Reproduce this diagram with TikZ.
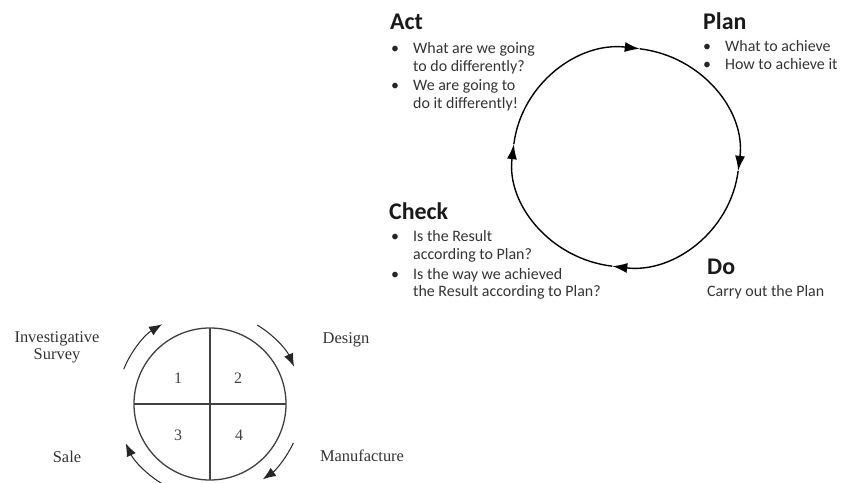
\documentclass[tikz,border=0pt]{standalone}
\usepackage{fontspec}
\setmainfont{Carlito}
\newfontfamily\seriffont{Liberation Serif}
\usetikzlibrary{arrows.meta}
\begin{document}
\begin{tikzpicture}[x=1bp,y=-1bp,
  txt/.style={anchor=base west,inner sep=0pt,font=\fontsize{16}{19}\selectfont,text=black!80},
  bul/.style={anchor=base west,inner sep=0pt,font=\fontsize{16}{19}\selectfont,text=black!85},
  head/.style={anchor=base west,inner sep=0pt,font=\fontsize{24}{28}\selectfont\bfseries,text=black!90},
  lbl/.style={inner sep=0pt,align=center,font=\seriffont\fontsize{16.5}{17}\selectfont,text=black!80},
  num/.style={inner sep=0pt,font=\seriffont\fontsize{16}{18}\selectfont,text=black!75},
  cyc/.style={line width=1.4bp,black,-{Latex[length=15bp,width=10bp]}},
  small/.style={line width=1.3bp,black!75},
  sarr/.style={line width=1bp,black!85,-{Latex[length=13bp,width=10bp]}}]
\useasboundingbox (0,0) rectangle (841,483);

% ---------- PDCA cycle ----------
\coordinate (pc) at (626,157.5);
\draw[cyc] ([shift={(187:113 and 109.5)}]pc) arc[start angle=187,end angle=277,x radius=113,y radius=109.5];
\draw[cyc] ([shift={(277:113 and 109.5)}]pc) arc[start angle=277,end angle=367,x radius=113,y radius=109.5];
\draw[cyc] ([shift={(7:113 and 109.5)}]pc) arc[start angle=7,end angle=97,x radius=113,y radius=109.5];
\draw[cyc] ([shift={(97:113 and 109.5)}]pc) arc[start angle=97,end angle=187,x radius=113,y radius=109.5];

% Act
\node[head] (acth) at (390,30) {Act};
\node[bul] (actb1) at (391,54) {•};
\node[txt] (act1) at (413,54) {What are we going};
\node[txt] (act2) at (413,72) {to do differently?};
\node[bul] (actb2) at (391,91) {•};
\node[txt] (act3) at (413,91) {We are going to};
\node[txt] (act4) at (413,109) {do it differently!};

% Plan
\node[head] (planh) at (703,30) {Plan};
\node[bul] (planb1) at (703,52) {•};
\node[txt] (plan1) at (725,52) {What to achieve};
\node[bul] (planb2) at (703,70) {•};
\node[txt] (plan2) at (725,70) {How to achieve it};

% Check
\node[head] (checkh) at (389,220) {Check};
\node[bul] (checkb1) at (391,242) {•};
\node[txt] (check1) at (413,242) {Is the Result};
\node[txt] (check2) at (413,260) {according to Plan?};
\node[bul] (checkb2) at (391,280) {•};
\node[txt] (check3) at (413,280) {Is the way we achieved};
\node[txt] (check4) at (413,297) {the Result according to Plan?};

% Do
\node[head] (doh) at (707,275) {Do};
\node[txt] (do1) at (707,297) {Carry out the Plan};

% ---------- small cycle ----------
\coordinate (sc) at (210,404);
\draw[small] (sc) circle[radius=76];
\draw[small] ([yshift=-76bp]sc) -- ([yshift=76bp]sc);
\draw[small] ([xshift=-76bp]sc) -- ([xshift=76bp]sc);
\node[num] (n1) at (178,378) {1};
\node[num] (n2) at (238,378) {2};
\node[num] (n3) at (178,435) {3};
\node[num] (n4) at (239,435) {4};

\draw[sarr] ([shift={(202:93)}]sc) arc[start angle=202,end angle=239,radius=93];
\draw[sarr] ([shift={(301:92)}]sc) arc[start angle=301,end angle=336,radius=92];
\draw[sarr] ([shift={(25:92)}]sc) arc[start angle=25,end angle=55,radius=92];
\draw[sarr] ([shift={(120:93)}]sc) arc[start angle=120,end angle=155,radius=93];

\node[lbl] (inv) at (57,347) {Investigative\\Survey};
\node[lbl] (des) at (346,340) {Design};
\node[lbl] (sale) at (67,457) {Sale};
\node[lbl] (man) at (362,456) {Manufacture};
\end{tikzpicture}
\end{document}
